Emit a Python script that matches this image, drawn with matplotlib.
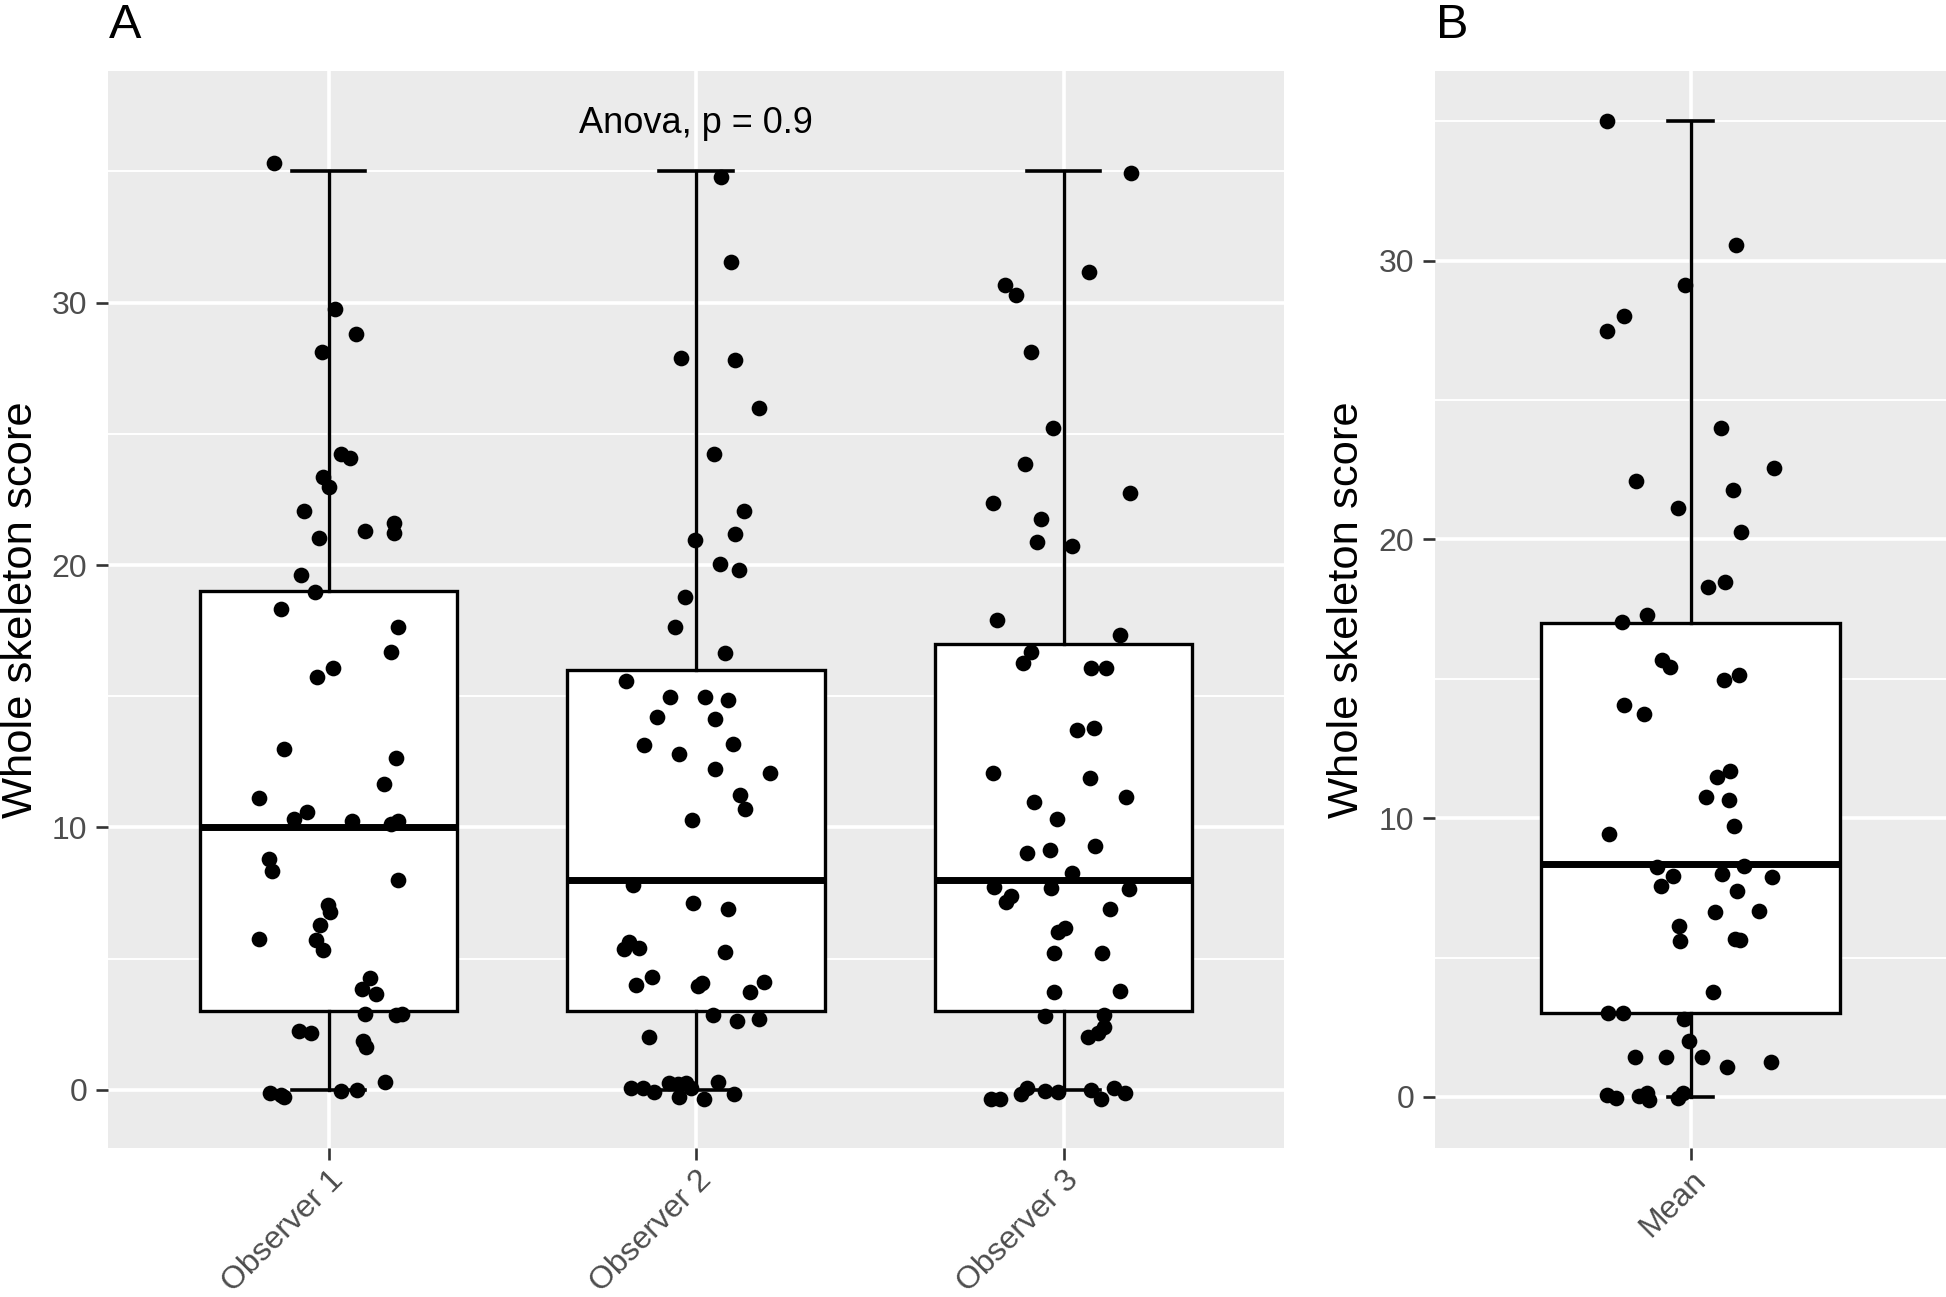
import matplotlib
matplotlib.use("Agg")
import matplotlib.pyplot as plt
from matplotlib.ticker import FixedLocator

plt.rcParams['font.family'] = ['Liberation Sans', 'DejaVu Sans']

# ---------------- data ----------------
groups_a = ["Observer 1", "Observer 2", "Observer 3"]
groups_b = ["Mean"]

# box statistics: q1, median, q3, whisker low, whisker high
q1_a = [3.0, 3.0, 3.0]
med_a = [10.0, 8.0, 8.0]
q3_a = [19.0, 16.0, 17.0]
wlo_a = [0.0, 0.0, 0.0]
whi_a = [35.0, 35.0, 35.0]

q1_b = [3.0]
med_b = [8.35]
q3_b = [17.0]
wlo_b = [0.0]
whi_b = [35.0]

# jittered points: value and horizontal jitter (category units)
obs1_y = [35.3, 29.74, 28.8, 28.11, 24.22, 24.09, 23.34, 22.98, 22.06, 21.02, 21.3, 21.61, 21.21,
          19.62, 18.98, 18.32, 17.63, 16.67, 16.09, 15.75, 13.0, 12.66, 11.66, 11.11, 10.6, 10.31,
          10.25, 10.13, 10.25, 8.81, 8.34, 8.0, 7.05, 6.77, 6.3, 5.74, 5.71, 5.33, 4.25, 3.85, 3.66,
          2.91, 2.86, 2.88, 2.25, 2.16, 1.87, 1.63, 0.32, -0.1, -0.28, -0.2, -0.03, 0.0]
obs1_jit = [-0.149, 0.019, 0.075, -0.018, 0.033, 0.058, -0.014, 0.001, -0.067, -0.025, 0.099, 0.178,
            0.178, -0.074, -0.037, -0.128, 0.188, 0.171, 0.012, -0.031, -0.121, 0.185, 0.150, -0.188,
            -0.058, -0.095, 0.065, 0.169, 0.189, -0.163, -0.154, 0.189, -0.002, 0.005, -0.022, -0.188,
            -0.033, -0.014, 0.114, 0.09, 0.13, 0.099, 0.185, 0.2, -0.079, -0.047, 0.094, 0.103, 0.153,
            -0.16, -0.122, -0.13, 0.035, 0.078]

obs2_y = [34.77, 31.56, 27.9, 27.8, 25.97, 24.24, 22.06, 21.19, 20.94, 20.04, 19.82, 18.79, 17.63,
          16.63, 15.59, 14.98, 14.96, 14.86, 14.22, 14.13, 13.14, 13.18, 12.8, 12.22, 12.09, 11.24,
          10.72, 10.29, 7.81, 7.14, 6.9, 5.65, 5.37, 5.4, 5.27, 4.32, 3.99, 3.97, 4.06, 4.1, 3.72,
          2.86, 2.64, 2.72, 2.01, 0.09, 0.09, -0.09, 0.25, 0.22, -0.25, 0.28, 0.06, -0.34, 0.32, -0.15]
obs2_jit = [0.069, 0.095, -0.041, 0.107, 0.171, 0.048, 0.131, 0.106, -0.003, 0.066, 0.118, -0.03,
            -0.058, 0.08, -0.191, -0.07, 0.025, 0.086, -0.107, 0.052, -0.142, 0.102, -0.047, 0.052,
            0.202, 0.121, 0.132, -0.012, -0.172, -0.007, 0.088, -0.182, -0.195, -0.154, 0.078, -0.121,
            -0.164, 0.005, 0.016, 0.186, 0.148, 0.047, 0.112, 0.171, -0.129, -0.177, -0.144, -0.115,
            -0.073, -0.05, -0.046, -0.026, -0.014, 0.021, 0.06, 0.103]

obs3_y = [34.92, 31.15, 30.67, 30.29, 28.11, 25.21, 23.85, 22.73, 22.35, 21.75, 20.86, 20.74, 17.9,
          17.33, 16.7, 16.28, 16.06, 16.09, 13.7, 13.79, 12.06, 11.89, 11.17, 10.98, 10.34, 9.02, 9.14,
          9.31, 8.26, 7.75, 7.68, 7.64, 7.39, 7.17, 6.88, 6.16, 6.01, 5.23, 5.21, 3.75, 3.78, 2.82,
          2.86, 2.39, 2.18, 2.01, -0.36, -0.36, -0.15, 0.09, -0.04, -0.09, 0.0, -0.34, 0.06, -0.1]
obs3_jit = [0.184, 0.069, -0.16, -0.129, -0.088, -0.029, -0.104, 0.181, -0.193, -0.06, -0.073, 0.022,
            -0.18, 0.155, -0.088, -0.11, 0.076, 0.117, 0.036, 0.084, -0.191, 0.071, 0.169, -0.079,
            -0.019, -0.098, -0.038, 0.087, 0.024, -0.19, -0.034, 0.178, -0.142, -0.156, 0.126, 0.005,
            -0.015, -0.027, 0.105, -0.027, 0.153, -0.051, 0.11, 0.111, 0.093, 0.066, -0.197, -0.174,
            -0.115, -0.1, -0.051, -0.015, 0.076, 0.103, 0.138, 0.167]

mean_y = [35.0, 30.56, 29.14, 28.0, 27.47, 24.01, 22.57, 22.08, 21.77, 21.14, 20.25, 18.46, 18.3,
          17.28, 17.04, 15.69, 15.42, 15.13, 14.95, 14.05, 13.73, 11.71, 11.47, 10.75, 10.65, 9.73,
          9.45, 8.24, 8.3, 7.94, 8.0, 7.88, 7.55, 7.39, 6.65, 6.67, 6.12, 5.6, 5.66, 5.64, 3.78, 3.0,
          3.03, 2.78, 2.02, 1.43, 1.43, 1.43, 1.09, 1.24, 0.08, -0.05, 0.04, 0.14, -0.12, -0.05, 0.14]
mean_jit = [-0.196, 0.106, -0.012, -0.156, -0.196, 0.071, 0.197, -0.129, 0.1, -0.03, 0.119, 0.08,
            0.04, -0.101, -0.161, -0.066, -0.047, 0.114, 0.079, -0.156, -0.11, 0.093, 0.062, 0.037,
            0.09, 0.102, -0.191, -0.078, 0.125, -0.04, 0.075, 0.191, -0.069, 0.109, 0.057, 0.161,
            -0.028, -0.024, 0.105, 0.117, 0.052, -0.193, -0.159, -0.015, -0.004, -0.13, -0.057, 0.026,
            0.086, 0.188, -0.195, -0.176, -0.12, -0.101, -0.097, -0.029, -0.018]

y_ticks = [0, 10, 20, 30]
y_minor = [5, 15, 25, 35]
anova_label = "Anova, p = 0.9"
y_title = "Whole skeleton score"
panel_labels = ["A", "B"]

# ---------------- figure ----------------
W, H = 1946, 1297
fig = plt.figure(figsize=(W / 100, H / 100), dpi=100)

BG = "#EBEBEB"
TXT = "#4D4D4D"
TICK = "#333333"


def style_axes(ax, ylim, n):
    ax.set_facecolor(BG)
    for s in ax.spines.values():
        s.set_visible(False)
    ax.set_xlim(0.4, n + 0.6)
    ax.set_ylim(*ylim)
    ax.yaxis.set_major_locator(FixedLocator(y_ticks))
    ax.yaxis.set_minor_locator(FixedLocator(y_minor))
    ax.set_xticks(range(1, n + 1))
    ax.grid(which='major', color='white', linewidth=2.6, zorder=0)
    ax.grid(which='minor', axis='y', color='white', linewidth=1.4, zorder=0)
    ax.set_axisbelow(True)
    ax.tick_params(axis='both', which='major', length=8.4, width=1.9, color=TICK,
                   labelcolor=TXT, labelsize=23)
    ax.tick_params(axis='y', which='major', pad=6.5)
    ax.tick_params(axis='x', which='major', pad=4)
    ax.tick_params(which='minor', length=0)


def draw_group(ax, pos, q1, med, q3, wlo, whi, ys, jit, capw):
    stats = [dict(med=med, q1=q1, q3=q3, whislo=wlo, whishi=whi, fliers=[])]
    ax.bxp(stats, positions=[pos], widths=0.7, patch_artist=True, showfliers=False,
           capwidths=capw,
           boxprops=dict(facecolor='white', edgecolor='black', linewidth=2.4),
           medianprops=dict(color='black', linewidth=5.0, solid_capstyle='butt'),
           whiskerprops=dict(color='black', linewidth=2.4),
           capprops=dict(color='black', linewidth=2.6),
           zorder=2)
    xs = [pos + j for j in jit]
    ax.plot(xs, ys, 'o', color='black', markersize=11.3, markeredgewidth=0, zorder=3)


axA = fig.add_axes([108 / W, (H - 1148) / H, 1176 / W, 1077 / H])
style_axes(axA, (-2.21, 38.82), 3)
for i, (ys, jit) in enumerate([(obs1_y, obs1_jit), (obs2_y, obs2_jit), (obs3_y, obs3_jit)]):
    draw_group(axA, i + 1, q1_a[i], med_a[i], q3_a[i], wlo_a[i], whi_a[i], ys, jit, 0.2)
axA.set_xticks(range(1, 4))
axA.set_xticklabels(groups_a, rotation=45, ha='right', va='top', rotation_mode='anchor')
axA.text(2, 36.82, anova_label, ha='center', va='center', fontsize=26, color='black')

axB = fig.add_axes([1435 / W, (H - 1148) / H, 511 / W, 1077 / H])
style_axes(axB, (-1.83, 36.80), 1)
draw_group(axB, 1, q1_b[0], med_b[0], q3_b[0], wlo_b[0], whi_b[0], mean_y, mean_jit, 0.105)
axB.set_xticks([1])
axB.set_xticklabels(groups_b, rotation=45, ha='right', va='top', rotation_mode='anchor')

# y titles
fig.text(21 / W, 1 - 610 / H, y_title, rotation=90, ha='center', va='center', fontsize=31.3)
fig.text(1347 / W, 1 - 610 / H, y_title, rotation=90, ha='center', va='center', fontsize=31.3)

# panel tags
fig.text(109 / W, 1 - 38.3 / H, panel_labels[0], ha='left', va='baseline', fontsize=35)
fig.text(1436 / W, 1 - 38.3 / H, panel_labels[1], ha='left', va='baseline', fontsize=35)

fig.savefig("out.png", dpi=100, facecolor='white')
